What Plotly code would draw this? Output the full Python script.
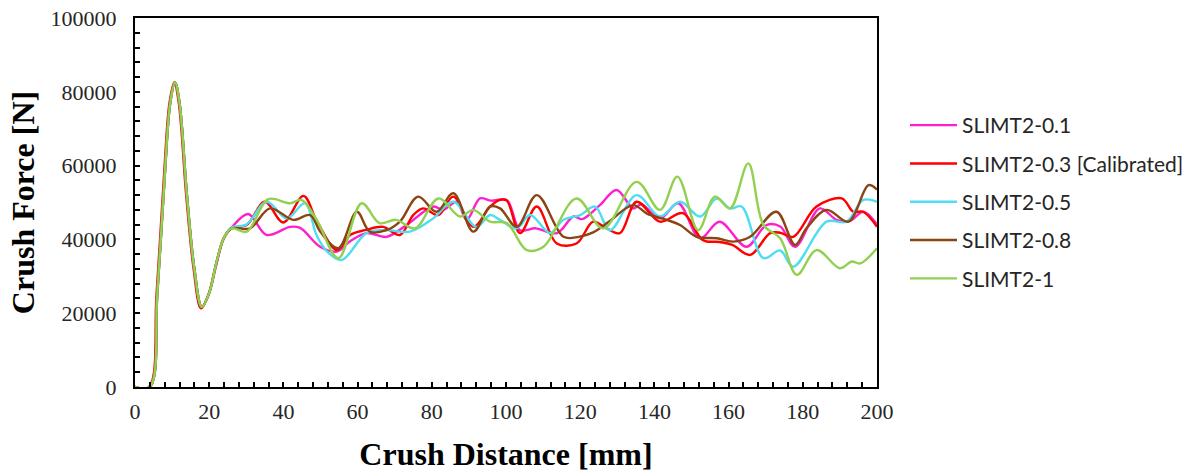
import plotly.graph_objects as go

# Crush distance (mm) / crush force (N) samples for each SLIMT2 parameter setting
x_01 = [0, 4, 6, 8, 9.5, 10.8, 12, 14, 16, 18, 20, 22, 24, 26, 30.5, 35.5, 41.8, 44.5, 49.9, 54.4, 58, 62.4,
        67.8, 73.2, 80.4, 83.1, 86.7, 89.4, 93, 96, 100.2, 103.8, 108, 113.7, 118.2, 120.5, 125.3, 129.8,
        134.3, 136.5, 141.5, 146.4, 152.3, 157.6, 164.8, 170.2, 173.9, 177.9, 184.6, 189.1, 192.7, 196.3, 200]
f_01 = [0, 0, 25000, 57000, 77000, 82500, 77000, 52000, 32000, 21700, 25500, 33500, 40500, 43200, 46900,
        41200, 43400, 43100, 38000, 36700, 39500, 41700, 40700, 43900, 48900, 48000, 50200, 45300, 51100,
        50500, 50700, 42500, 43000, 41700, 46200, 45500, 49300, 53400, 48400, 49500, 45700, 49800, 40300,
        44800, 38000, 43900, 43500, 38000, 48400, 45300, 45000, 47500, 44000]

x_03 = [0, 3.8, 5.8, 7.8, 9.3, 10.6, 11.8, 13.8, 15.8, 17.8, 19.8, 21.8, 23.8, 26, 30.1, 35, 40, 45.4, 49,
        54.4, 58, 62, 66.9, 71.4, 75, 77.7, 81.8, 85.8, 91.2, 95.7, 98.4, 100.2, 103.8, 108.3, 113.7, 119,
        123.5, 127.1, 130.7, 135.2, 141.5, 147.7, 153.1, 157.6, 161, 165.8, 171.2, 173.9, 177.4, 183.7,
        190.5, 193.6, 196.3, 200]
f_03 = [0, 0, 25000, 57000, 77000, 82500, 77000, 52000, 32000, 21300, 25000, 33000, 40000, 43000, 43900,
        50200, 44600, 51800, 45000, 37100, 41200, 42500, 43400, 41200, 46600, 48400, 46600, 51600, 43400,
        48900, 50700, 50500, 41700, 48900, 38900, 38900, 44800, 43000, 41700, 50200, 44800, 47100, 39800,
        39300, 38500, 35800, 41700, 41800, 40700, 48900, 51100, 47500, 47500, 43400]

x_05 = [0, 4, 6, 8, 9.5, 10.8, 12, 14, 16, 18, 20, 22, 24, 26, 30, 35.5, 40.9, 45.8, 49, 52, 55.7, 62.4,
        67.8, 74.1, 80.4, 85.8, 92, 95.7, 98.4, 102.9, 106.5, 111.9, 115.5, 120, 124, 128, 135.2, 141.5,
        146.9, 152.3, 156.8, 160.4, 163.5, 169.4, 173.9, 177.4, 186.4, 191.8, 196.3, 200]
f_05 = [0, 0, 25000, 57000, 77000, 82500, 77000, 52000, 32000, 21700, 25500, 34000, 40500, 43200, 44000,
        50200, 45700, 49800, 41000, 36500, 34400, 41700, 42500, 42100, 45700, 50200, 43400, 46600, 45300,
        43000, 46600, 41700, 45300, 46600, 48900, 42500, 52000, 46200, 50200, 46200, 51100, 48400, 48900,
        34900, 37000, 32600, 44800, 44800, 50700, 50200]

x_08 = [0, 4, 6, 8, 9.5, 10.8, 12, 14, 16, 18, 20, 22, 24, 26, 31, 36.4, 42.7, 47.2, 50, 54.8, 59.8, 63.3,
        67.8, 71.4, 76.3, 81.3, 85.8, 91.2, 95.7, 98.4, 102.9, 108.3, 115.5, 119.6, 123.5, 128, 134.3, 138,
        143.3, 146.9, 151.4, 156.8, 161.2, 165.8, 172.9, 177.9, 181, 186.4, 192.3, 197.7, 200]
f_08 = [0, 0, 25000, 57000, 77000, 82500, 77000, 52000, 32000, 21700, 25500, 34000, 40500, 43000, 43000,
        48400, 45300, 46600, 42000, 37600, 47500, 42100, 42500, 44800, 51600, 47500, 52500, 42100, 48900,
        48400, 43400, 52000, 40700, 40700, 41900, 45000, 49300, 47000, 45300, 43900, 40700, 40300, 39400,
        40700, 47500, 38500, 43000, 48000, 44800, 54700, 53500]

x_1 = [0, 4, 6, 8, 9.5, 10.8, 12, 14, 16, 18, 20, 22, 24, 26, 30.1, 35.9, 41.8, 44.9, 48.9, 54.8, 61.1,
       65.9, 70.4, 75.5, 81.8, 87.6, 91.2, 95.7, 100.2, 105.6, 110.1, 119, 126.2, 135.2, 141.5, 146.2,
       151.8, 156.3, 160.4, 165.3, 169.4, 173.9, 178.4, 183.7, 190, 193.2, 195.5, 200]
f_1 = [0, 0, 25000, 57000, 77000, 82500, 77000, 52000, 32000, 21700, 25500, 34000, 40500, 43000, 42100,
       50900, 49800, 50700, 45400, 34900, 49800, 44400, 45300, 43000, 51100, 46200, 48000, 44800, 44400,
       37100, 38000, 51100, 43000, 55600, 48000, 57000, 42500, 51600, 48400, 60600, 43900, 40300, 30400,
       37100, 32200, 34000, 33500, 37600]

names = ["SLIMT2-0.1", "SLIMT2-0.3 [Calibrated]", "SLIMT2-0.5", "SLIMT2-0.8", "SLIMT2-1"]
colors = ["#FF1FCB", "#FF0000", "#4FDDF2", "#8B4513", "#92D050"]
series = [(x_01, f_01), (x_03, f_03), (x_05, f_05), (x_08, f_08), (x_1, f_1)]

fig = go.Figure()
for i, ((xs, fs), name, col) in enumerate(zip(series, names, colors)):
    fig.add_trace(go.Scatter(
        x=xs, y=fs, name=name, mode="lines",
        line=dict(color=col, width=2.4, shape="spline", smoothing=1.0),
        legendgroup=str(i),
    ))

serif = "Liberation Serif, Times New Roman, serif"
axis_common = dict(
    showline=True, linecolor="black", linewidth=2, mirror=True,
    ticks="inside", ticklen=5, tickwidth=1.5, tickcolor="black",
    showgrid=False, zeroline=False, automargin=False,
    tickfont=dict(family=serif, size=22, color="#262626"),
)

fig.update_layout(
    width=1188, height=472,
    margin=dict(l=135, r=311, t=18, b=85),
    paper_bgcolor="white", plot_bgcolor="white",
    xaxis=dict(range=[0, 200], dtick=20, ticklabelstandoff=4,
               minor=dict(dtick=4, ticks="inside", ticklen=5, tickcolor="black", tickwidth=1.5),
               title=dict(text="<b>Crush Distance [mm]</b>", font=dict(family=serif, size=32, color="black"),
                          standoff=22),
               **axis_common),
    yaxis=dict(range=[0, 100000], dtick=20000, tickformat="d", ticklabelstandoff=12,
               minor=dict(dtick=4000, ticks="inside", ticklen=5, tickcolor="black", tickwidth=1.5),
               title=dict(text="<b>Crush Force [N]</b>", font=dict(family=serif, size=32, color="black"),
                          standoff=6),
               **axis_common),
    legend=dict(xref="container", yref="container", x=905 / 1188, y=1 - 105 / 472,
                xanchor="left", yanchor="top", tracegroupgap=8, itemwidth=47,
                font=dict(family="Lato, Noto Sans, sans-serif", size=21, color="#262626"),
                bgcolor="rgba(0,0,0,0)"),
    showlegend=True,
)

fig.write_html("out.html")
